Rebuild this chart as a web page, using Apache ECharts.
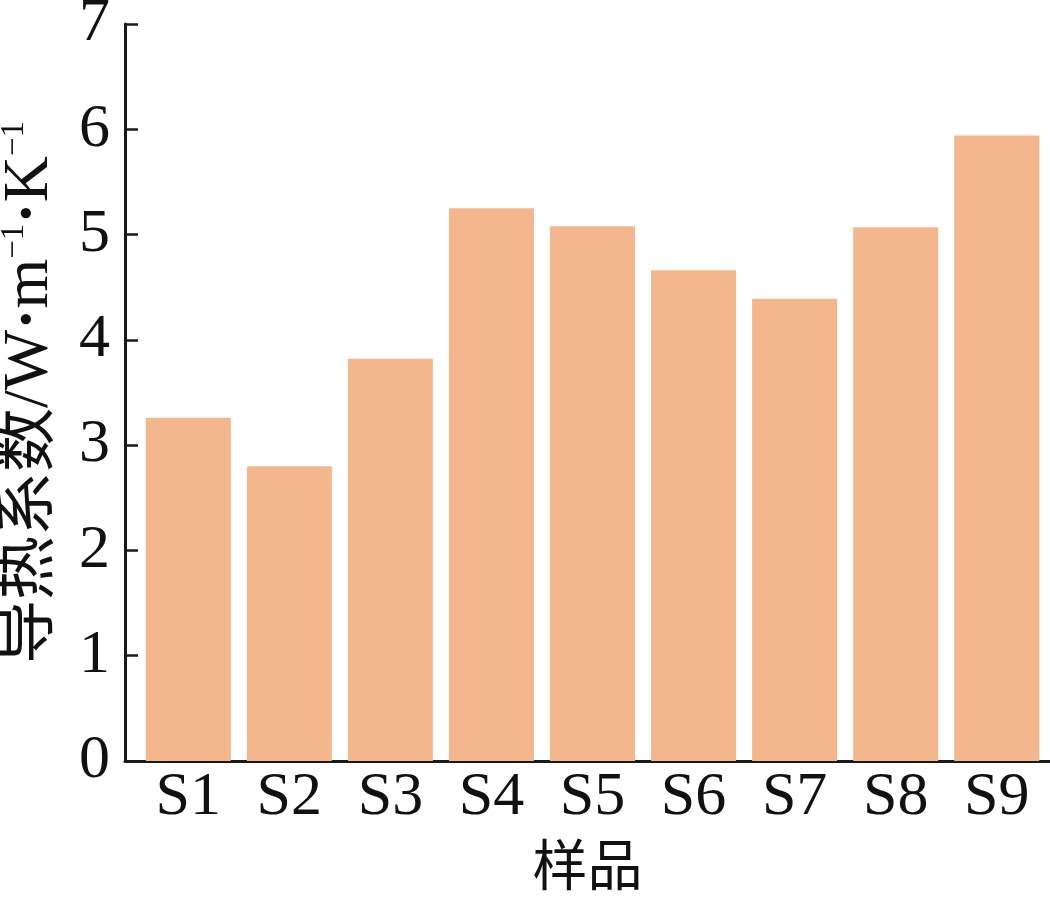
<!DOCTYPE html>
<html>
<head>
<meta charset="utf-8">
<script src="https://cdn.jsdelivr.net/npm/echarts@6/dist/echarts.min.js"></script>
<style>
html,body{margin:0;padding:0;background:#fff;}
#chart{width:1050px;height:900px;}
</style>
</head>
<body>
<div id="chart"></div>
<script>
const categories = ['S1', 'S2', 'S3', 'S4', 'S5', 'S6', 'S7', 'S8', 'S9'];
const values = [3.26, 2.80, 3.82, 5.25, 5.08, 4.66, 4.39, 5.07, 5.94];
const yMin = 0, yMax = 7, yStep = 1;
const xName = '样品';
const yNameCJK = '导热系数/W';
const yUnitM = 'm';
const yUnitK = 'K';
const supText = '−1';
const dot = '·';

const positions = categories.map((_, i) => i + 1);
const seriesData = categories.map((c, i) => [positions[i], values[i]]);

const FONT = '"Liberation Serif", "Times New Roman", "Noto Sans CJK SC", serif';
const AXIS_COLOR = '#1a1a1a';

const chart = echarts.init(document.getElementById('chart'), null, {renderer: 'canvas'});
chart.setOption({
  backgroundColor: '#ffffff',
  animation: false,
  grid: {left: 125, right: 0, top: 24, bottom: 139, containLabel: false, outerBoundsMode: 'none'},
  xAxis: {
    type: 'value',
    min: 0.3736,
    max: 9.527,
    name: xName,
    nameLocation: 'middle',
    nameGap: 82,
    nameTextStyle: {fontFamily: FONT, fontSize: 55, color: '#111'},
    axisLine: {show: true, onZero: false, lineStyle: {color: AXIS_COLOR, width: 3}},
    axisTick: {show: true, inside: true, length: 17, customValues: positions, lineStyle: {color: AXIS_COLOR, width: 2.5}},
    axisLabel: {
      customValues: positions,
      margin: 6,
      fontFamily: FONT, fontSize: 62, color: '#111',
      formatter: v => categories[Math.round(v) - 1] || ''
    },
    splitLine: {show: false}
  },
  yAxis: {
    type: 'value',
    min: yMin, max: yMax, interval: yStep,
    name: `${yNameCJK}{b|${dot}}${yUnitM}{sup|${supText}}{b|${dot}}${yUnitK}{sup|${supText}}`,
    nameLocation: 'middle',
    nameGap: 63,
    nameRotate: 90,
    nameTextStyle: {
      fontFamily: FONT, fontSize: 64, color: '#111', lineHeight: 64,
      rich: {
        sup: {fontFamily: FONT, fontSize: 33, lineHeight: 33, color: '#111', verticalAlign: 'top'},
        b: {fontFamily: FONT, fontSize: 64, lineHeight: 64, fontWeight: 'bold', color: '#111'}
      }
    },
    axisLine: {show: true, lineStyle: {color: AXIS_COLOR, width: 3}},
    axisTick: {show: true, inside: true, length: 13, lineStyle: {color: AXIS_COLOR, width: 2.5}},
    axisLabel: {margin: 15, fontFamily: FONT, fontSize: 62, color: '#111'},
    splitLine: {show: false}
  },
  series: [{
    type: 'bar',
    data: seriesData,
    barWidth: 85,
    itemStyle: {color: '#F4B68C'},
    z: 1
  }]
});
</script>
</body>
</html>
